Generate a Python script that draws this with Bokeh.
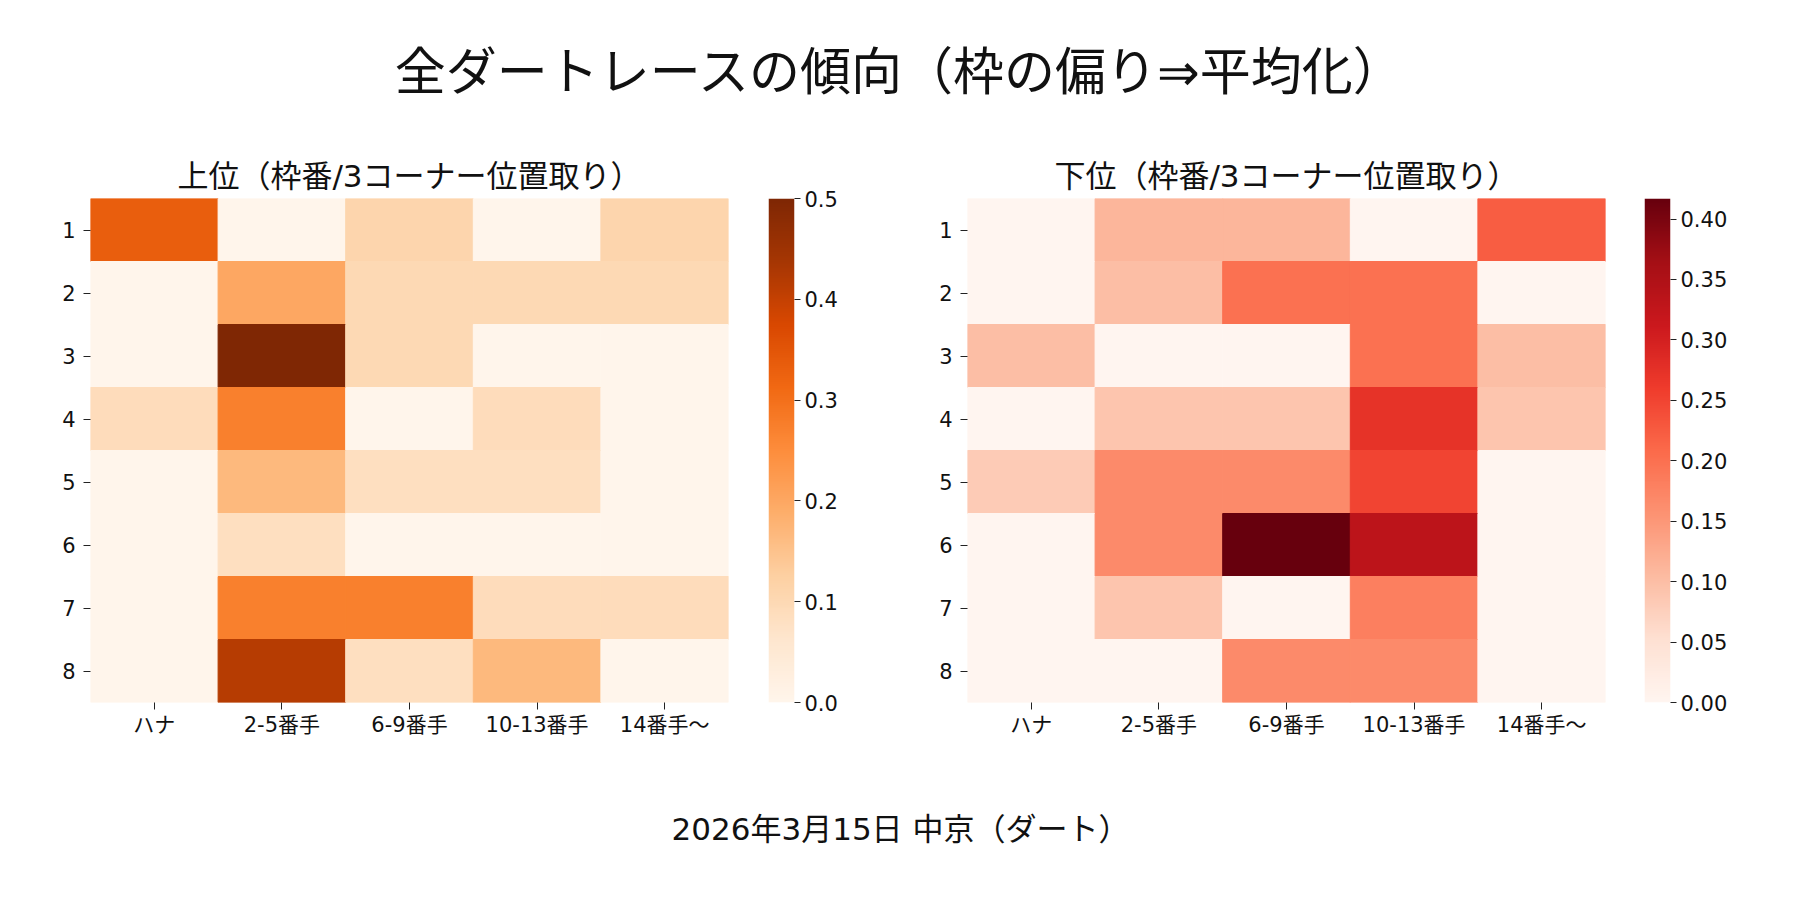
import numpy as np
from bokeh.plotting import figure
from bokeh.models import (ColumnDataSource, FactorRange, Range1d, LinearColorMapper,
                          FixedTicker, PrintfTickFormatter)
from bokeh.layouts import column, row
from bokeh.transform import transform
from bokeh.core.properties import value
from bokeh.palettes import Oranges9, Reds9
from bokeh.embed import file_html
from bokeh.resources import INLINE

# ---------------- data ----------------
main_title = "全ダートレースの傾向（枠の偏り⇒平均化）"
footer_text = "2026年3月15日 中京（ダート）"
left_title = "上位（枠番/3コーナー位置取り）"
right_title = "下位（枠番/3コーナー位置取り）"

positions = ["ハナ", "2-5番手", "6-9番手", "10-13番手", "14番手～"]
gates = ["1", "2", "3", "4", "5", "6", "7", "8"]

# rows = gates 1..8, columns = positions
upper_rates = [
    [0.333, 0.000, 0.111, 0.000, 0.111],
    [0.000, 0.200, 0.100, 0.100, 0.100],
    [0.000, 0.500, 0.100, 0.000, 0.000],
    [0.091, 0.273, 0.000, 0.091, 0.000],
    [0.000, 0.167, 0.083, 0.083, 0.000],
    [0.000, 0.083, 0.000, 0.000, 0.000],
    [0.000, 0.273, 0.273, 0.091, 0.091],
    [0.000, 0.417, 0.083, 0.167, 0.000],
]
lower_rates = [
    [0.000, 0.111, 0.111, 0.000, 0.222],
    [0.000, 0.100, 0.200, 0.200, 0.000],
    [0.100, 0.000, 0.000, 0.200, 0.100],
    [0.000, 0.091, 0.091, 0.273, 0.091],
    [0.083, 0.167, 0.167, 0.250, 0.000],
    [0.000, 0.167, 0.417, 0.333, 0.000],
    [0.000, 0.091, 0.000, 0.182, 0.000],
    [0.000, 0.000, 0.167, 0.167, 0.000],
]
upper_ticks = [0.0, 0.1, 0.2, 0.3, 0.4, 0.5]
lower_ticks = [0.00, 0.05, 0.10, 0.15, 0.20, 0.25, 0.30, 0.35, 0.40]

FONT = "'DejaVu Sans', 'Noto Sans CJK JP'"
TEXT = "#111111"
TICK = "#222222"

ROW_H = 612
TOP_B = 48
BOT_B = 60


def smooth_palette(anchors, n=256):
    """Expand a 9-colour sequential palette (light -> dark) into n colours."""
    rgb = [tuple(int(c[i:i + 2], 16) for i in (1, 3, 5)) for c in anchors]
    out = []
    m = len(rgb) - 1
    for k in range(n):
        t = k / (n - 1) * m
        i = min(int(t), m - 1)
        f = t - i
        c = tuple(round(rgb[i][j] + (rgb[i + 1][j] - rgb[i][j]) * f) for j in range(3))
        out.append("#%02x%02x%02x" % c)
    return out


oranges = smooth_palette(list(reversed(Oranges9)))
reds = smooth_palette(list(reversed(Reds9)))


def style_axis(ax):
    ax.axis_line_color = None
    ax.major_tick_line_color = TICK
    ax.major_tick_in = 0
    ax.minor_tick_line_color = None
    ax.major_label_text_font = FONT
    ax.major_label_text_font_size = "21px"
    ax.major_label_text_color = TEXT


def heatmap(title, rates, mapper, width, border_left, border_right):
    xs, ys, vs = [], [], []
    for i, g in enumerate(gates):
        for j, pos in enumerate(positions):
            xs.append(pos)
            ys.append(g)
            vs.append(rates[i][j])
    src = ColumnDataSource(dict(pos=xs, gate=ys, rate=vs))

    p = figure(x_range=FactorRange(factors=positions),
               y_range=FactorRange(factors=list(reversed(gates))),
               width=width, height=ROW_H,
               min_border_left=border_left, min_border_right=border_right,
               min_border_top=TOP_B, min_border_bottom=BOT_B,
               output_backend="svg", toolbar_location=None, tools="")
    p.rect(x="pos", y="gate", width=1, height=1, source=src,
           fill_color=transform("rate", mapper),
           line_color=transform("rate", mapper), line_width=1)

    p.title.text = title
    p.title.align = "center"
    p.title.text_font = FONT
    p.title.text_font_size = "31px"
    p.title.text_font_style = "normal"
    p.title.text_color = TEXT
    p.title.standoff = 9

    p.grid.visible = False
    p.outline_line_color = None
    for ax in (p.xaxis, p.yaxis):
        style_axis(ax)
        ax.major_tick_out = 7
    p.xaxis.major_label_standoff = 3
    p.yaxis.major_label_standoff = 8
    return p


def colorbar(mapper, high, ticks, fmt, width, border_right):
    p = figure(x_range=Range1d(0, 1), y_range=Range1d(0, high),
               width=width, height=ROW_H,
               min_border_left=0, min_border_right=border_right,
               min_border_top=TOP_B, min_border_bottom=BOT_B,
               x_axis_location=None, y_axis_location="right",
               output_backend="svg", toolbar_location=None, tools="")
    gradient = np.linspace(0, high, 256).reshape(256, 1)
    p.image(image=[gradient], x=0, y=0, dw=1, dh=high, color_mapper=mapper)
    p.grid.visible = False
    p.outline_line_color = None
    p.yaxis.ticker = FixedTicker(ticks=ticks)
    p.yaxis.formatter = PrintfTickFormatter(format=fmt)
    style_axis(p.yaxis)
    p.yaxis.major_tick_out = 6
    p.yaxis.major_label_standoff = 4
    return p


def text_panel(txt, height, y_px, size):
    p = figure(width=1800, height=height, x_range=Range1d(0, 1), y_range=Range1d(0, height),
               x_axis_location=None, y_axis_location=None,
               min_border=0, output_backend="svg", toolbar_location=None, tools="")
    p.grid.visible = False
    p.outline_line_color = None
    p.text(x=[0.5], y=[height - y_px], text=[txt], text_align="center",
           text_baseline="middle", text_font=value(FONT),
           text_font_size=size, text_color=TEXT)
    return p


upper_mapper = LinearColorMapper(palette=oranges, low=0,
                                 high=max(max(r) for r in upper_rates))
lower_mapper = LinearColorMapper(palette=reds, low=0,
                                 high=max(max(r) for r in lower_rates))

top = text_panel(main_title, 150, 72, "51px")
# frames: left 90-728, bar 768-794; right 967-1605, bar 1644-1670
left = heatmap(left_title, upper_rates, upper_mapper, 768, 90, 40)
left_cb = colorbar(upper_mapper, upper_mapper.high, upper_ticks, "%.1f", 112, 86)
right = heatmap(right_title, lower_rates, lower_mapper, 764, 87, 39)
right_cb = colorbar(lower_mapper, lower_mapper.high, lower_ticks, "%.2f", 156, 130)
bottom = text_panel(footer_text, 128, 66, "31px")

layout = column(top, row(left, left_cb, right, right_cb), bottom)
open("out.html", "w").write(file_html(layout, INLINE))
